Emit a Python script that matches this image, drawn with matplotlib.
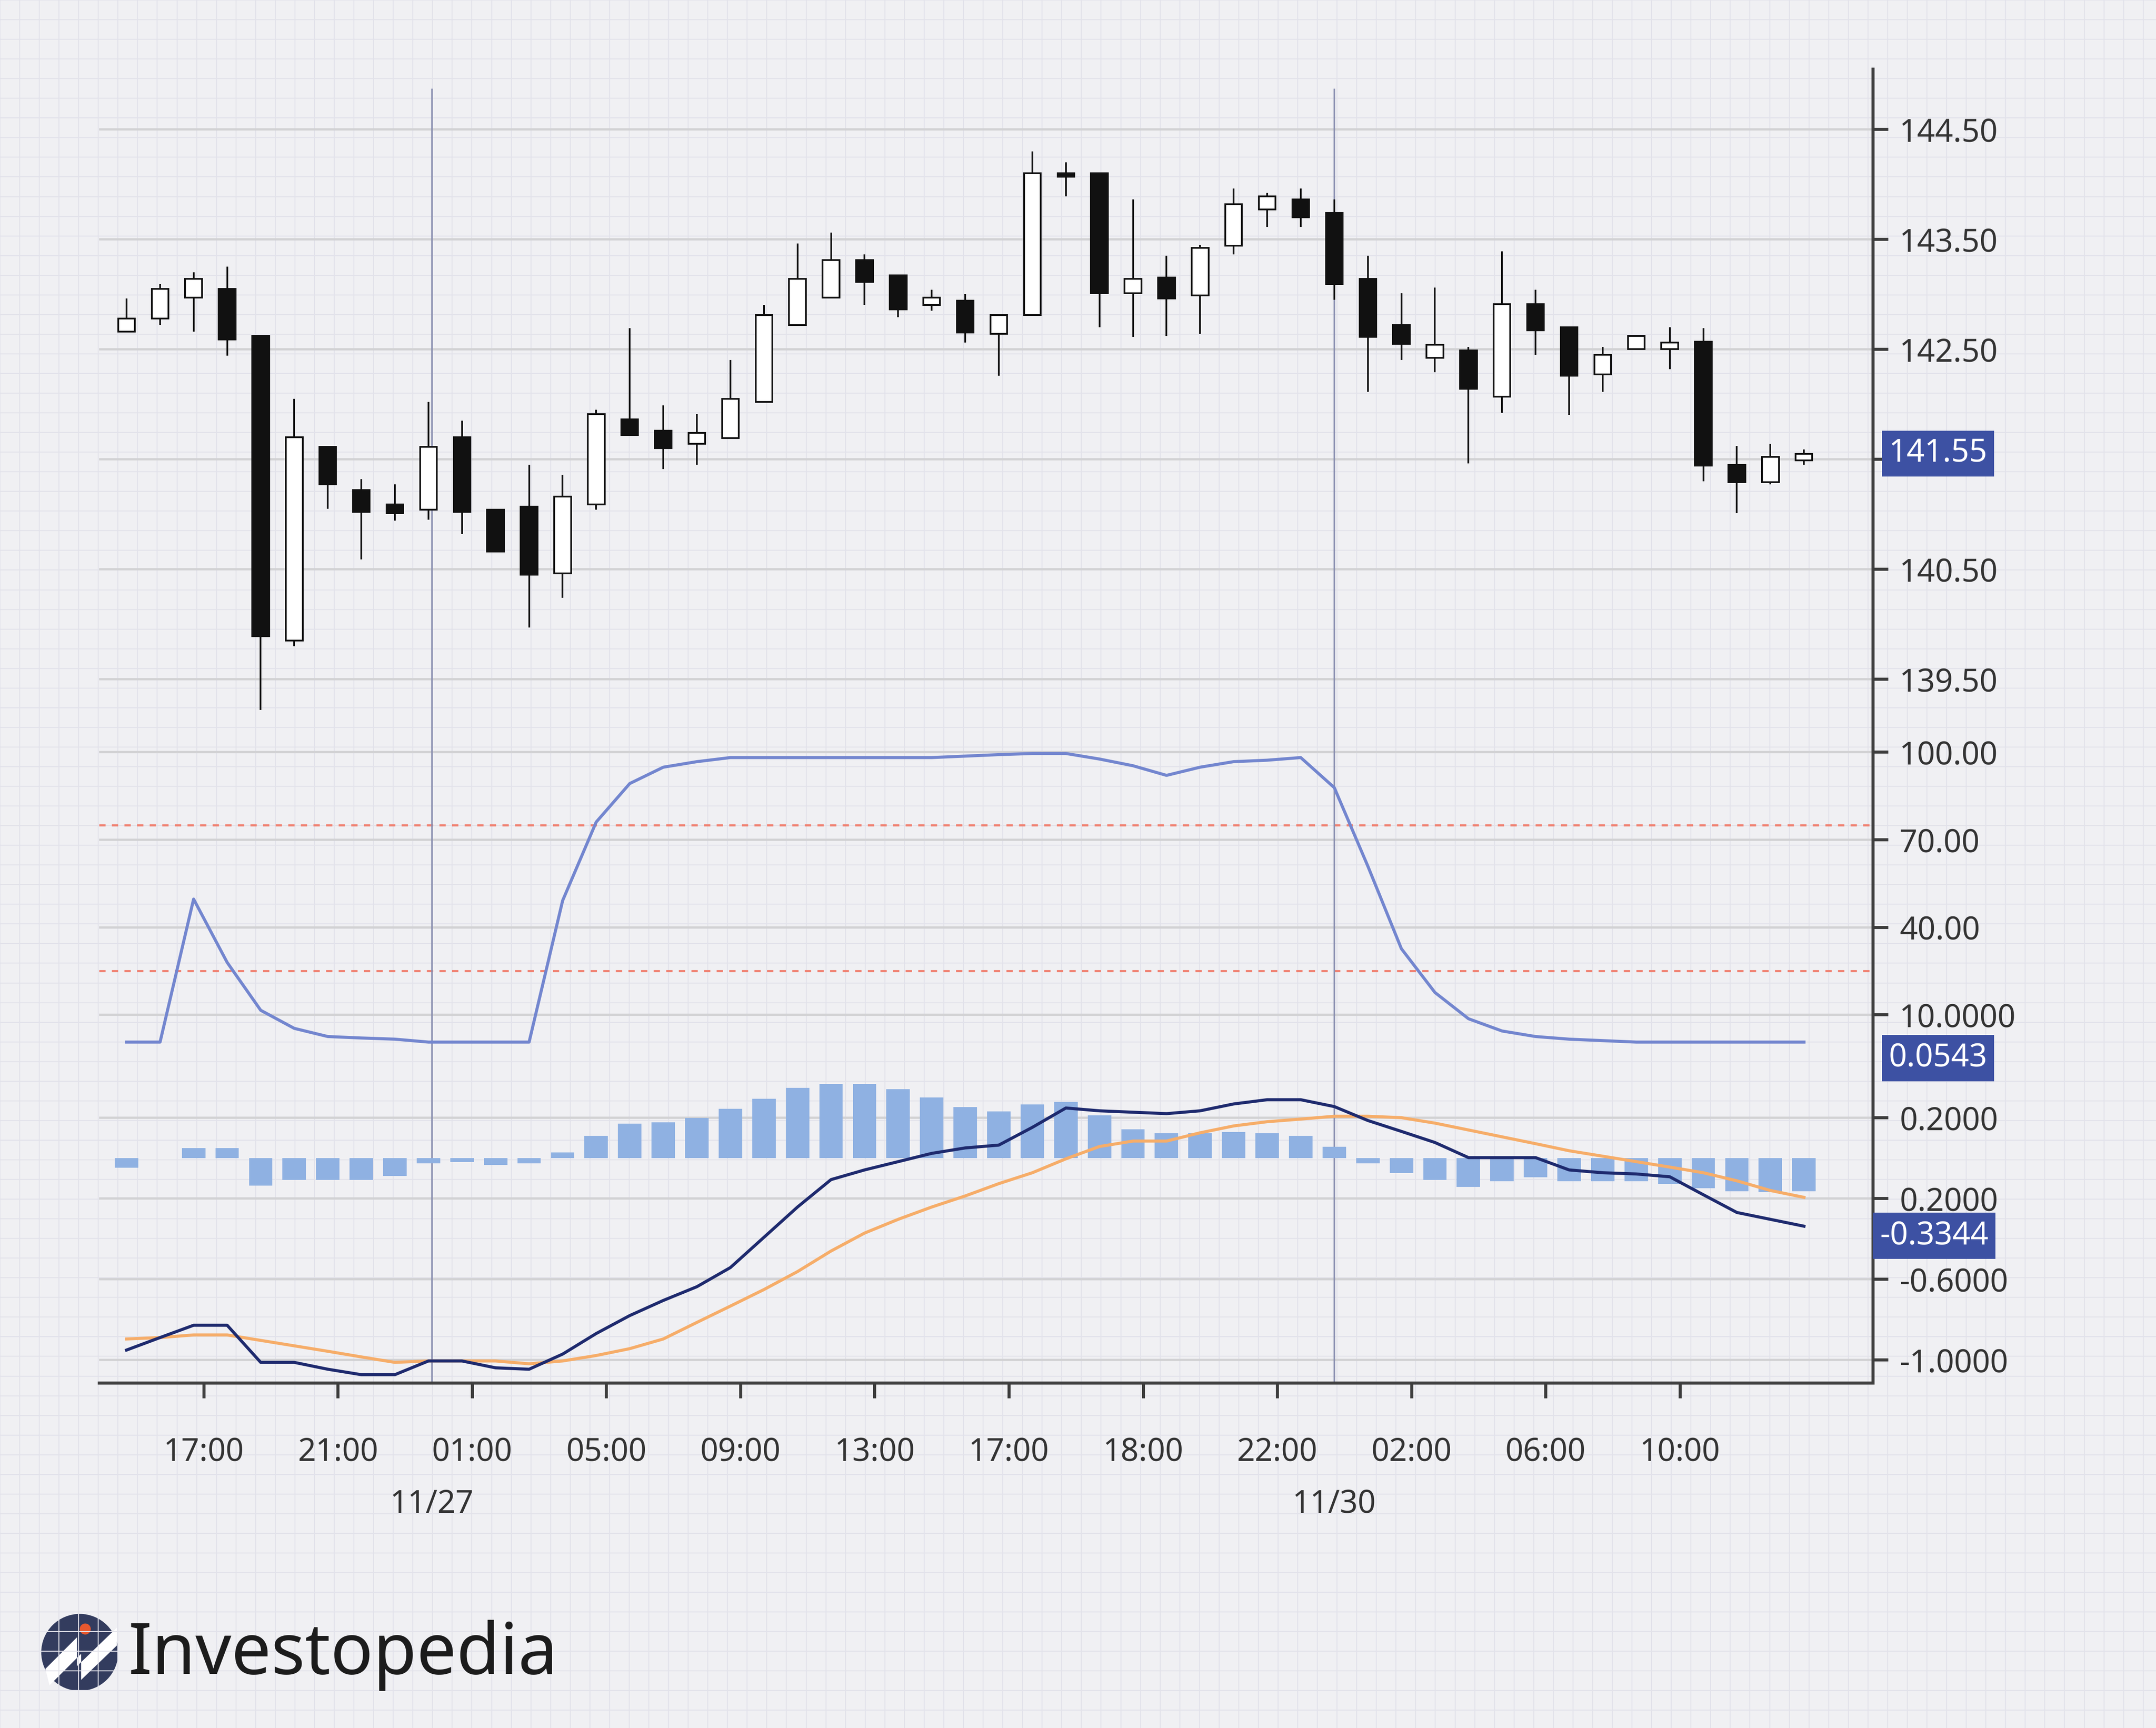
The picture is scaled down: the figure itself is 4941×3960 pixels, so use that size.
import matplotlib
matplotlib.use("Agg")
import matplotlib.pyplot as plt
import numpy as np
from matplotlib.patches import Rectangle, Circle, Polygon

plt.rcParams['font.family'] = ['Noto Sans', 'DejaVu Sans']

opens  = [142.66,142.78,142.97,143.05,142.62,139.85,141.61,141.22,141.09,141.04,141.70,141.04,141.07,140.46,141.09,141.86,141.76,141.64,141.69,142.02,142.72,142.97,143.31,143.17,142.90,142.94,142.64,142.81,144.10,144.10,143.01,143.15,142.99,143.44,143.77,143.86,143.74,143.14,142.72,142.42,142.49,142.07,142.91,142.70,142.27,142.50,142.50,142.57,141.45,141.29,141.49]
closes = [142.78,143.05,143.14,142.59,139.89,141.70,141.27,141.02,141.01,141.61,141.02,140.66,140.45,141.16,141.91,141.72,141.60,141.74,142.05,142.81,143.14,143.31,143.11,142.86,142.97,142.65,142.81,144.10,144.07,143.01,143.14,142.96,143.42,143.82,143.89,143.70,143.09,142.61,142.55,142.54,142.14,142.91,142.67,142.26,142.45,142.62,142.56,141.44,141.29,141.52,141.55]
highs  = [142.96,143.09,143.20,143.25,142.62,142.05,141.61,141.32,141.27,142.02,141.85,141.04,141.45,141.36,141.95,142.69,141.99,141.91,142.40,142.90,143.46,143.56,143.36,143.17,143.04,143.00,142.81,144.30,144.20,144.10,143.86,143.35,143.45,143.96,143.92,143.96,143.86,143.35,143.01,143.06,142.52,143.39,143.04,142.70,142.52,142.62,142.70,142.69,141.62,141.64,141.59]
lows   = [142.66,142.72,142.66,142.44,139.22,139.80,141.05,140.59,140.94,140.95,140.82,140.66,139.97,140.24,141.04,141.72,141.41,141.45,141.69,142.02,142.72,142.97,142.90,142.79,142.85,142.56,142.26,142.81,143.89,142.70,142.61,142.62,142.64,143.36,143.61,143.61,142.95,142.11,142.40,142.29,141.46,141.92,142.45,141.90,142.11,142.50,142.32,141.30,141.01,141.27,141.45]

rsi = [0.6,0.6,49.6,27.9,11.5,5.3,2.5,2.0,1.6,0.6,0.6,0.6,0.6,49.1,76.0,89.2,94.8,96.7,98.1,98.1,98.1,98.1,98.1,98.1,98.1,98.6,99.1,99.5,99.5,97.6,95.3,92.0,94.8,96.7,97.2,98.1,87.8,60.9,32.6,17.6,8.6,4.4,2.5,1.6,1.1,0.6,0.6,0.6,0.6,0.6,0.6]
macd = [-0.952,-0.890,-0.829,-0.829,-1.013,-1.013,-1.047,-1.074,-1.074,-1.006,-1.006,-1.040,-1.047,-0.972,-0.870,-0.781,-0.706,-0.638,-0.543,-0.393,-0.243,-0.107,-0.059,-0.018,0.023,0.050,0.064,0.152,0.248,0.234,0.227,0.220,0.234,0.268,0.289,0.289,0.255,0.186,0.132,0.077,0.002,0.002,0.002,-0.059,-0.073,-0.079,-0.093,-0.182,-0.270,-0.304,-0.338]
signal = [-0.897,-0.890,-0.877,-0.877,-0.904,-0.931,-0.958,-0.986,-1.013,-1.006,-1.006,-1.006,-1.020,-1.006,-0.979,-0.945,-0.897,-0.815,-0.734,-0.652,-0.563,-0.461,-0.372,-0.304,-0.243,-0.188,-0.127,-0.073,-0.004,0.057,0.084,0.084,0.125,0.159,0.180,0.193,0.207,0.207,0.200,0.173,0.139,0.105,0.071,0.036,0.009,-0.018,-0.045,-0.073,-0.113,-0.161,-0.195]
hist = [-0.048,0.0,0.050,0.050,-0.136,-0.109,-0.109,-0.109,-0.089,-0.027,-0.020,-0.034,-0.027,0.027,0.109,0.170,0.177,0.198,0.245,0.293,0.348,0.368,0.368,0.341,0.300,0.252,0.232,0.266,0.279,0.211,0.143,0.123,0.123,0.129,0.123,0.109,0.055,-0.027,-0.075,-0.109,-0.143,-0.116,-0.095,-0.116,-0.116,-0.116,-0.129,-0.150,-0.164,-0.170,-0.164]

xtick_pos = [2.3,6.3,10.3,14.3,18.3,22.3,26.3,30.3,34.3,38.3,42.3,46.3]
xtick_labels = ["17:00","21:00","01:00","05:00","09:00","13:00","17:00","18:00","22:00","02:00","06:00","10:00"]
date_pos = [9.1, 36.0]
date_labels = ["11/27", "11/30"]

price_ticks = [139.5,140.5,141.5,142.5,143.5,144.5]
price_tick_labels = ["139.50","140.50","","142.50","143.50","144.50"]
rsi_ticks = [10,40,70,100]
rsi_tick_labels = ["10.0000","40.00","70.00","100.00"]
rsi_levels = [25,75]
macd_ticks = [-1.0,-0.6,-0.2,0.2]
macd_tick_labels = ["-1.0000","-0.6000","0.2000","0.2000"]

W, H = 4941, 3960
fig = plt.figure(figsize=(W/315, H/315), dpi=315)
BG = '#f0f0f3'
fig.patch.set_facecolor(BG)

bg = fig.add_axes([0,0,1,1], zorder=-5)
bg.set_xlim(0,1568); bg.set_ylim(1257,0); bg.axis('off')
for gx in np.arange(0,1568,14.3):
    bg.axvline(gx, color='#e2e2ea', lw=0.5)
for gy in np.arange(0,1257,14.3):
    bg.axhline(gy, color='#e2e2ea', lw=0.5)

L, R = 72/1568, 1362/1568
def fy(py): return 1-py/1257
axp = fig.add_axes([L, fy(522), R-L, fy(50)-fy(522)])
axr = fig.add_axes([L, fy(785), R-L, fy(522)-fy(785)], sharex=axp)
axm = fig.add_axes([L, fy(1006), R-L, fy(785)-fy(1006)], sharex=axp)

n = len(opens)
x = np.arange(n)
axp.set_xlim(-0.82, 52.05)
axp.set_ylim(139.15, 145.05)
axr.set_ylim(-12.1, 111.8)
axm.set_ylim(-1.115, 0.391)

AXC = '#3d3d3d'
TXT = '#333333'
FS = 16.5
for ax in (axp, axr, axm):
    ax.set_facecolor('none')
    for s in ('left','top','bottom'):
        ax.spines[s].set_visible(False)
    ax.spines['right'].set_color(AXC); ax.spines['right'].set_linewidth(1.6)
    ax.yaxis.tick_right()
    ax.tick_params(axis='y', length=8, width=1.6, color=AXC, labelsize=FS, labelcolor=TXT, pad=6)
    ax.tick_params(axis='x', bottom=False, labelbottom=False)
axm.spines['bottom'].set_visible(True)
axm.spines['bottom'].set_color(AXC); axm.spines['bottom'].set_linewidth(1.6)

gridc = '#d2d2d4'
axp.set_yticks(price_ticks); axp.set_yticklabels(price_tick_labels)
for t in price_ticks:
    axp.axhline(t, color=gridc, lw=1.2, zorder=0)
w = 0.5
for i in range(n):
    o, c, h, l = opens[i], closes[i], highs[i], lows[i]
    axp.vlines(i, l, h, color='#111111', lw=0.9, zorder=2)
    up = c >= o
    axp.add_patch(Rectangle((i-w/2, min(o,c)), w, max(abs(c-o), 0.02),
                            facecolor='white' if up else '#111111', edgecolor='#111111', lw=0.9, zorder=3))

axr.set_yticks(rsi_ticks); axr.set_yticklabels(rsi_tick_labels)
for t in rsi_ticks:
    axr.axhline(t, color=gridc, lw=1.2, zorder=0)
for t in rsi_levels:
    axr.axhline(t, color='#f08070', lw=1.1, ls=(0,(3,3)), zorder=1)
axr.plot(x, rsi, color='#7386cf', lw=1.6, zorder=3)

axm.set_yticks(macd_ticks); axm.set_yticklabels(macd_tick_labels)
for t in macd_ticks:
    axm.axhline(t, color=gridc, lw=1.2, zorder=0)
axm.bar(x, hist, width=0.7, color='#8fb1e2', zorder=2)
axm.plot(x, signal, color='#f6ad69', lw=1.6, zorder=3)
axm.plot(x, macd, color='#1e2a6e', lw=1.6, zorder=4)

top_frac = (144.86-139.15)/(145.05-139.15)
for d in date_pos:
    axp.axvline(d, ymax=top_frac, color='#8a8fb0', lw=0.8, zorder=1)
    axr.axvline(d, color='#8a8fb0', lw=0.8, zorder=1)
    axm.axvline(d, color='#8a8fb0', lw=0.8, zorder=1)

for ax in (axp, axr, axm):
    for lab in ax.get_yticklabels():
        lab.set_fontweight('medium')

axm.set_xticks(xtick_pos)
axm.set_xticklabels(xtick_labels, fontweight='medium')
axm.tick_params(axis='x', bottom=True, labelbottom=True, length=8, width=1.6, color=AXC,
                labelsize=FS, labelcolor=TXT, pad=20)
for d, lab in zip(date_pos, date_labels):
    axm.text(d, -0.40, lab, transform=axm.get_xaxis_transform(), ha='center', va='center',
             fontsize=FS, color=TXT, fontweight='medium')

box = dict(boxstyle='square,pad=0.22', facecolor='#3d51a3', edgecolor='none')
kw = dict(ha='left', va='center', fontsize=FS, color='white', fontweight='medium', bbox=box, clip_on=False)
axp.text(1.009, closes[-1], "141.55", transform=axp.get_yaxis_transform(), **kw)
axr.text(1.009, -4.9, "0.0543", transform=axr.get_yaxis_transform(), **kw)
axm.text(1.004, -0.386, "-0.3344", transform=axm.get_yaxis_transform(), **kw)

bg.add_patch(Circle((58, 1202), 28, facecolor='#333c5e', edgecolor='none'))
bg.add_patch(Polygon([[33,1214],[56,1191],[56,1212],[85,1184],[85,1197],[59,1222],[59,1203],[36,1226]],
                     closed=True, facecolor='white', edgecolor='none'))
bg.add_patch(Circle((62, 1185), 4, facecolor='#e8582e', edgecolor='none'))
bg.text(93, 1204, "Investopedia", fontsize=37, color='#1c1c1c', va='center', ha='left')

fig.savefig("out.png", dpi=315, facecolor=BG)
